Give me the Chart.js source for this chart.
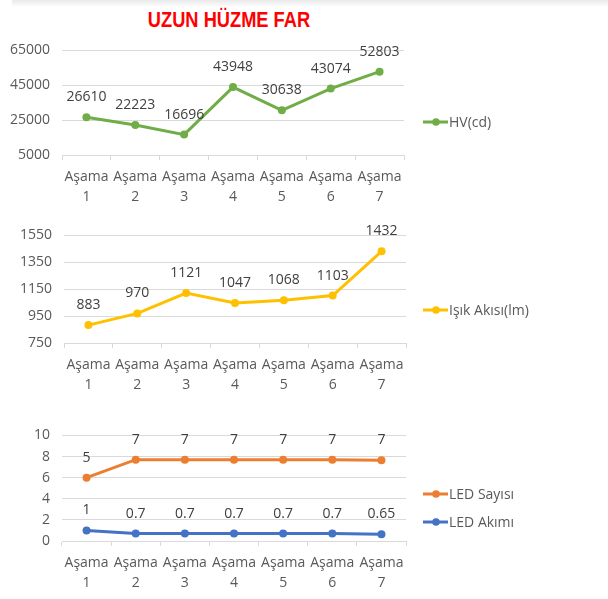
<!DOCTYPE html>
<html>
<head>
<meta charset="utf-8">
<script src="https://cdn.jsdelivr.net/npm/chart.js@4/dist/chart.umd.min.js"></script>
<style>
  body { margin: 0; background: #fff; width: 608px; height: 599px; overflow: hidden; position: relative; }
  .shade { position: absolute; left: 12px; top: 0; width: 596px; height: 7px; background: linear-gradient(#e9e9e9, #fff); }
  .title { position: absolute; left: 0; width: 458px; top: 7px; text-align: center; transform: scaleX(0.83); transform-origin: 229px 0;
    font: bold 22px "Liberation Sans", sans-serif; color: #ff0000; }
  .box { position: absolute; left: 0; width: 608px; }
</style>
</head>
<body>
<div class="shade"></div>
<div class="title">UZUN HÜZME FAR</div>
<div class="box" style="top:30px;height:180px"><canvas id="hv-chart"></canvas></div>
<div class="box" style="top:215px;height:183px"><canvas id="flux-chart"></canvas></div>
<div class="box" style="top:415px;height:181px"><canvas id="led-chart"></canvas></div>
<script>
"use strict";

// data
const stage_labels = [['Aşama', '1'], ['Aşama', '2'], ['Aşama', '3'], ['Aşama', '4'], ['Aşama', '5'], ['Aşama', '6'], ['Aşama', '7']];
const hv_values = [26610, 22223, 16696, 43948, 30638, 43074, 52803];
const flux_values = [883, 970, 1121, 1047, 1068, 1103, 1432];
const led_count = [5, 7, 7, 7, 7, 7, 7];
const led_current = [1, 0.7, 0.7, 0.7, 0.7, 0.7, 0.65];
const hv_ticks = [5000, 65000, 20000];     // min, max, step
const flux_ticks = [750, 1550, 200];
const led_ticks = [0, 10, 2];

const FONT = '"Open Sans", "Liberation Sans", sans-serif';
const TEXT_GRAY = '#595959';
const FONT_SIZE = 14;

// value labels above each point
const value_labels = {
    id: 'value_labels',
    afterDatasetsDraw(chart) {
        const ctx = chart.ctx;
        ctx.save();
        ctx.font = FONT_SIZE + 'px ' + FONT;
        ctx.fillStyle = '#404040';
        ctx.textAlign = 'center';
        ctx.textBaseline = 'middle';
        chart.data.datasets.forEach((ds, i) => {
            chart.getDatasetMeta(i).data.forEach((pt, j) => {
                ctx.fillText(String(ds.data[j]), pt.x, pt.y - 20);
            });
        });
        ctx.restore();
    }
};

// excel-like legend: line with a dot, to the right
const side_legend = {
    id: 'side_legend',
    afterDraw(chart, args, opts) {
        const ctx = chart.ctx;
        ctx.save();
        ctx.font = FONT_SIZE + 'px ' + FONT;
        ctx.textBaseline = 'middle';
        const order = opts.order || chart.data.datasets.map((d, i) => i);
        order.forEach((i, k) => {
            const ds = chart.data.datasets[i];
            const y = opts.y + k * 28;
            const x = opts.x;
            ctx.strokeStyle = ds.borderColor;
            ctx.lineWidth = 3;
            ctx.beginPath();
            ctx.moveTo(x, y);
            ctx.lineTo(x + 25, y);
            ctx.stroke();
            ctx.fillStyle = ds.borderColor;
            ctx.beginPath();
            ctx.arc(x + 13, y, 3.8, 0, Math.PI * 2);
            ctx.fill();
            ctx.fillStyle = TEXT_GRAY;
            ctx.fillText(ds.label, x + 26, y + 1);
        });
        ctx.restore();
    }
};

function line_set (label, values, color) {
    return {
        label: label,
        data: values,
        borderColor: color,
        backgroundColor: color,
        borderWidth: 3,
        pointRadius: 4,
        pointBorderWidth: 0,
        tension: 0,
        fill: false,
    };
}

function make_chart (canvas_id, datasets, ticks, cfg) {
    const ctx = document.getElementById(canvas_id).getContext('2d');
    return new Chart(ctx, {
        type: 'line',
        data: { labels: stage_labels, datasets: datasets },
        options: {
            responsive: true,
            maintainAspectRatio: false,
            animation: false,
            layout: { padding: { top: cfg.top, right: 608 - cfg.right, left: 0, bottom: 0 } },
            plugins: {
                legend: { display: false },
                tooltip: { enabled: false },
                side_legend: { x: 423, y: cfg.legend_y, order: cfg.order },
            },
            scales: {
                x: {
                    offset: true,
                    grid: { offset: true, drawOnChartArea: false, drawTicks: true, tickLength: 5, color: '#d9d9d9' },
                    border: { display: true, color: '#d9d9d9', width: 1 },
                    ticks: { color: TEXT_GRAY, padding: 7, maxRotation: 0, font: { family: FONT, size: FONT_SIZE, lineHeight: 1.45 } },
                    afterFit(scale) { scale.height = 55; },
                },
                y: {
                    stacked: !!cfg.stacked,
                    min: ticks[0],
                    max: ticks[1],
                    grid: { color: '#d9d9d9', drawTicks: false },
                    border: { display: false },
                    ticks: {
                        stepSize: ticks[2], color: TEXT_GRAY, padding: 12,
                        font: { family: FONT, size: FONT_SIZE },
                        callback: (v) => String(v),
                    },
                    afterFit(scale) { scale.width = cfg.left; },
                },
            },
        },
        plugins: [value_labels, side_legend],
    });
}

make_chart('hv-chart', [line_set('HV(cd)', hv_values, '#70ad47')], hv_ticks,
    { top: 15, left: 62, right: 404, legend_y: 92 });

make_chart('flux-chart', [line_set('Işık Akısı(lm)', flux_values, '#ffc000')], flux_ticks,
    { top: 17, left: 64, right: 406, legend_y: 95 });

// stacked like the excel original: LED Sayısı sits on top of LED Akımı
make_chart('led-chart', [line_set('LED Akımı', led_current, '#4472c4'), line_set('LED Sayısı', led_count, '#ed7d31')], led_ticks,
    { top: 15, left: 62, right: 406, legend_y: 79, stacked: true, order: [1, 0] });
</script>
</body>
</html>
